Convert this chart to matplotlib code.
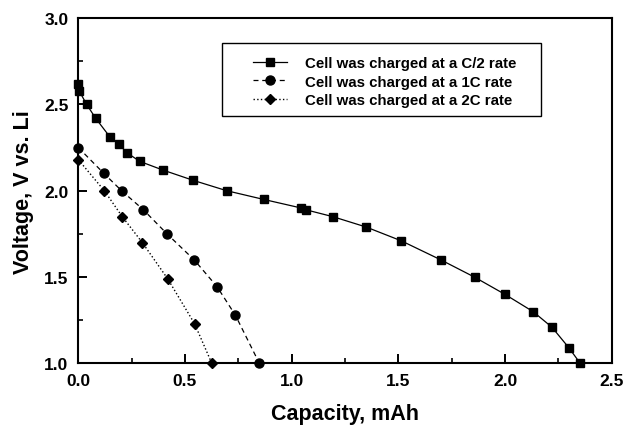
import numpy as np
import matplotlib.pyplot as plt
from matplotlib.ticker import MultipleLocator
from matplotlib.patches import Rectangle

plt.rcParams['font.family'] = ['Liberation Sans', 'DejaVu Sans']
plt.rcParams['font.weight'] = 'bold'

# C/2 rate
cap_half = [0.0, 0.003, 0.039, 0.081, 0.149, 0.19, 0.228, 0.288, 0.396, 0.539,
            0.696, 0.868, 1.045, 1.066, 1.193, 1.349, 1.514, 1.699, 1.857,
            2.0, 2.132, 2.22, 2.30, 2.353]
volt_half = [2.62, 2.58, 2.50, 2.42, 2.31, 2.27, 2.22, 2.17, 2.12, 2.06,
             2.0, 1.95, 1.90, 1.89, 1.85, 1.79, 1.71, 1.60, 1.50,
             1.40, 1.30, 1.21, 1.09, 1.0]

# 1C rate
cap_1c = [0.0, 0.12, 0.203, 0.305, 0.416, 0.543, 0.65, 0.736, 0.849]
volt_1c = [2.25, 2.10, 2.0, 1.89, 1.75, 1.60, 1.445, 1.28, 1.0]

# 2C rate
cap_2c = [0.0, 0.122, 0.206, 0.30, 0.419, 0.545, 0.626]
volt_2c = [2.18, 2.0, 1.85, 1.70, 1.49, 1.23, 1.0]

labels = ['Cell was charged at a C/2 rate',
          'Cell was charged at a 1C rate',
          'Cell was charged at a 2C rate']

fig = plt.figure(figsize=(6.25, 4.27), dpi=100)
ax = fig.add_axes([0.1253, 0.1464, 0.8534, 0.8091])

ax.plot(cap_half, volt_half, '-', color='black', lw=0.9,
        marker='s', ms=6, label=labels[0], clip_on=False, zorder=3)
ax.plot(cap_1c, volt_1c, '--', color='black', lw=0.9, dashes=(4, 3),
        marker='o', ms=6.5, label=labels[1], clip_on=False, zorder=3)
ax.plot(cap_2c, volt_2c, ':', color='black', lw=1.0,
        marker='D', ms=5.5, label=labels[2], clip_on=False, zorder=3)

ax.set_xlim(0, 2.5)
ax.set_ylim(1.0, 3.0)
ax.xaxis.set_major_locator(MultipleLocator(0.5))
ax.xaxis.set_minor_locator(MultipleLocator(0.25))
ax.yaxis.set_major_locator(MultipleLocator(0.5))
ax.yaxis.set_minor_locator(MultipleLocator(0.25))
ax.tick_params(which='major', direction='in', length=6.7, width=1.4,
               labelsize=12.5, pad=7)
ax.tick_params(which='minor', direction='in', length=3.8, width=1.2)
for lab in ax.get_xticklabels() + ax.get_yticklabels():
    lab.set_fontweight('bold')
for sp in ax.spines.values():
    sp.set_linewidth(1.5)

ax.set_xlabel('Capacity, mAh', fontsize=15.5, fontweight='bold', labelpad=10.5)
ax.set_ylabel('Voltage, V vs. Li', fontsize=15.5, fontweight='bold', labelpad=7)

# legend content without frame, frame drawn as separate box
leg = ax.legend(loc='center left', bbox_to_anchor=(0.4043, 0.8065),
                bbox_transform=fig.transFigure, frameon=False,
                handlelength=2.3, borderpad=0, borderaxespad=0,
                labelspacing=0.28, handletextpad=1.2,
                prop={'weight': 'bold', 'size': 10.8})
fig.patches.append(Rectangle((0.3552, 0.726), 0.5104, 0.171,
                             transform=fig.transFigure, fill=False,
                             edgecolor='black', lw=1.0, zorder=5))

plt.savefig('out.png', dpi=100)
